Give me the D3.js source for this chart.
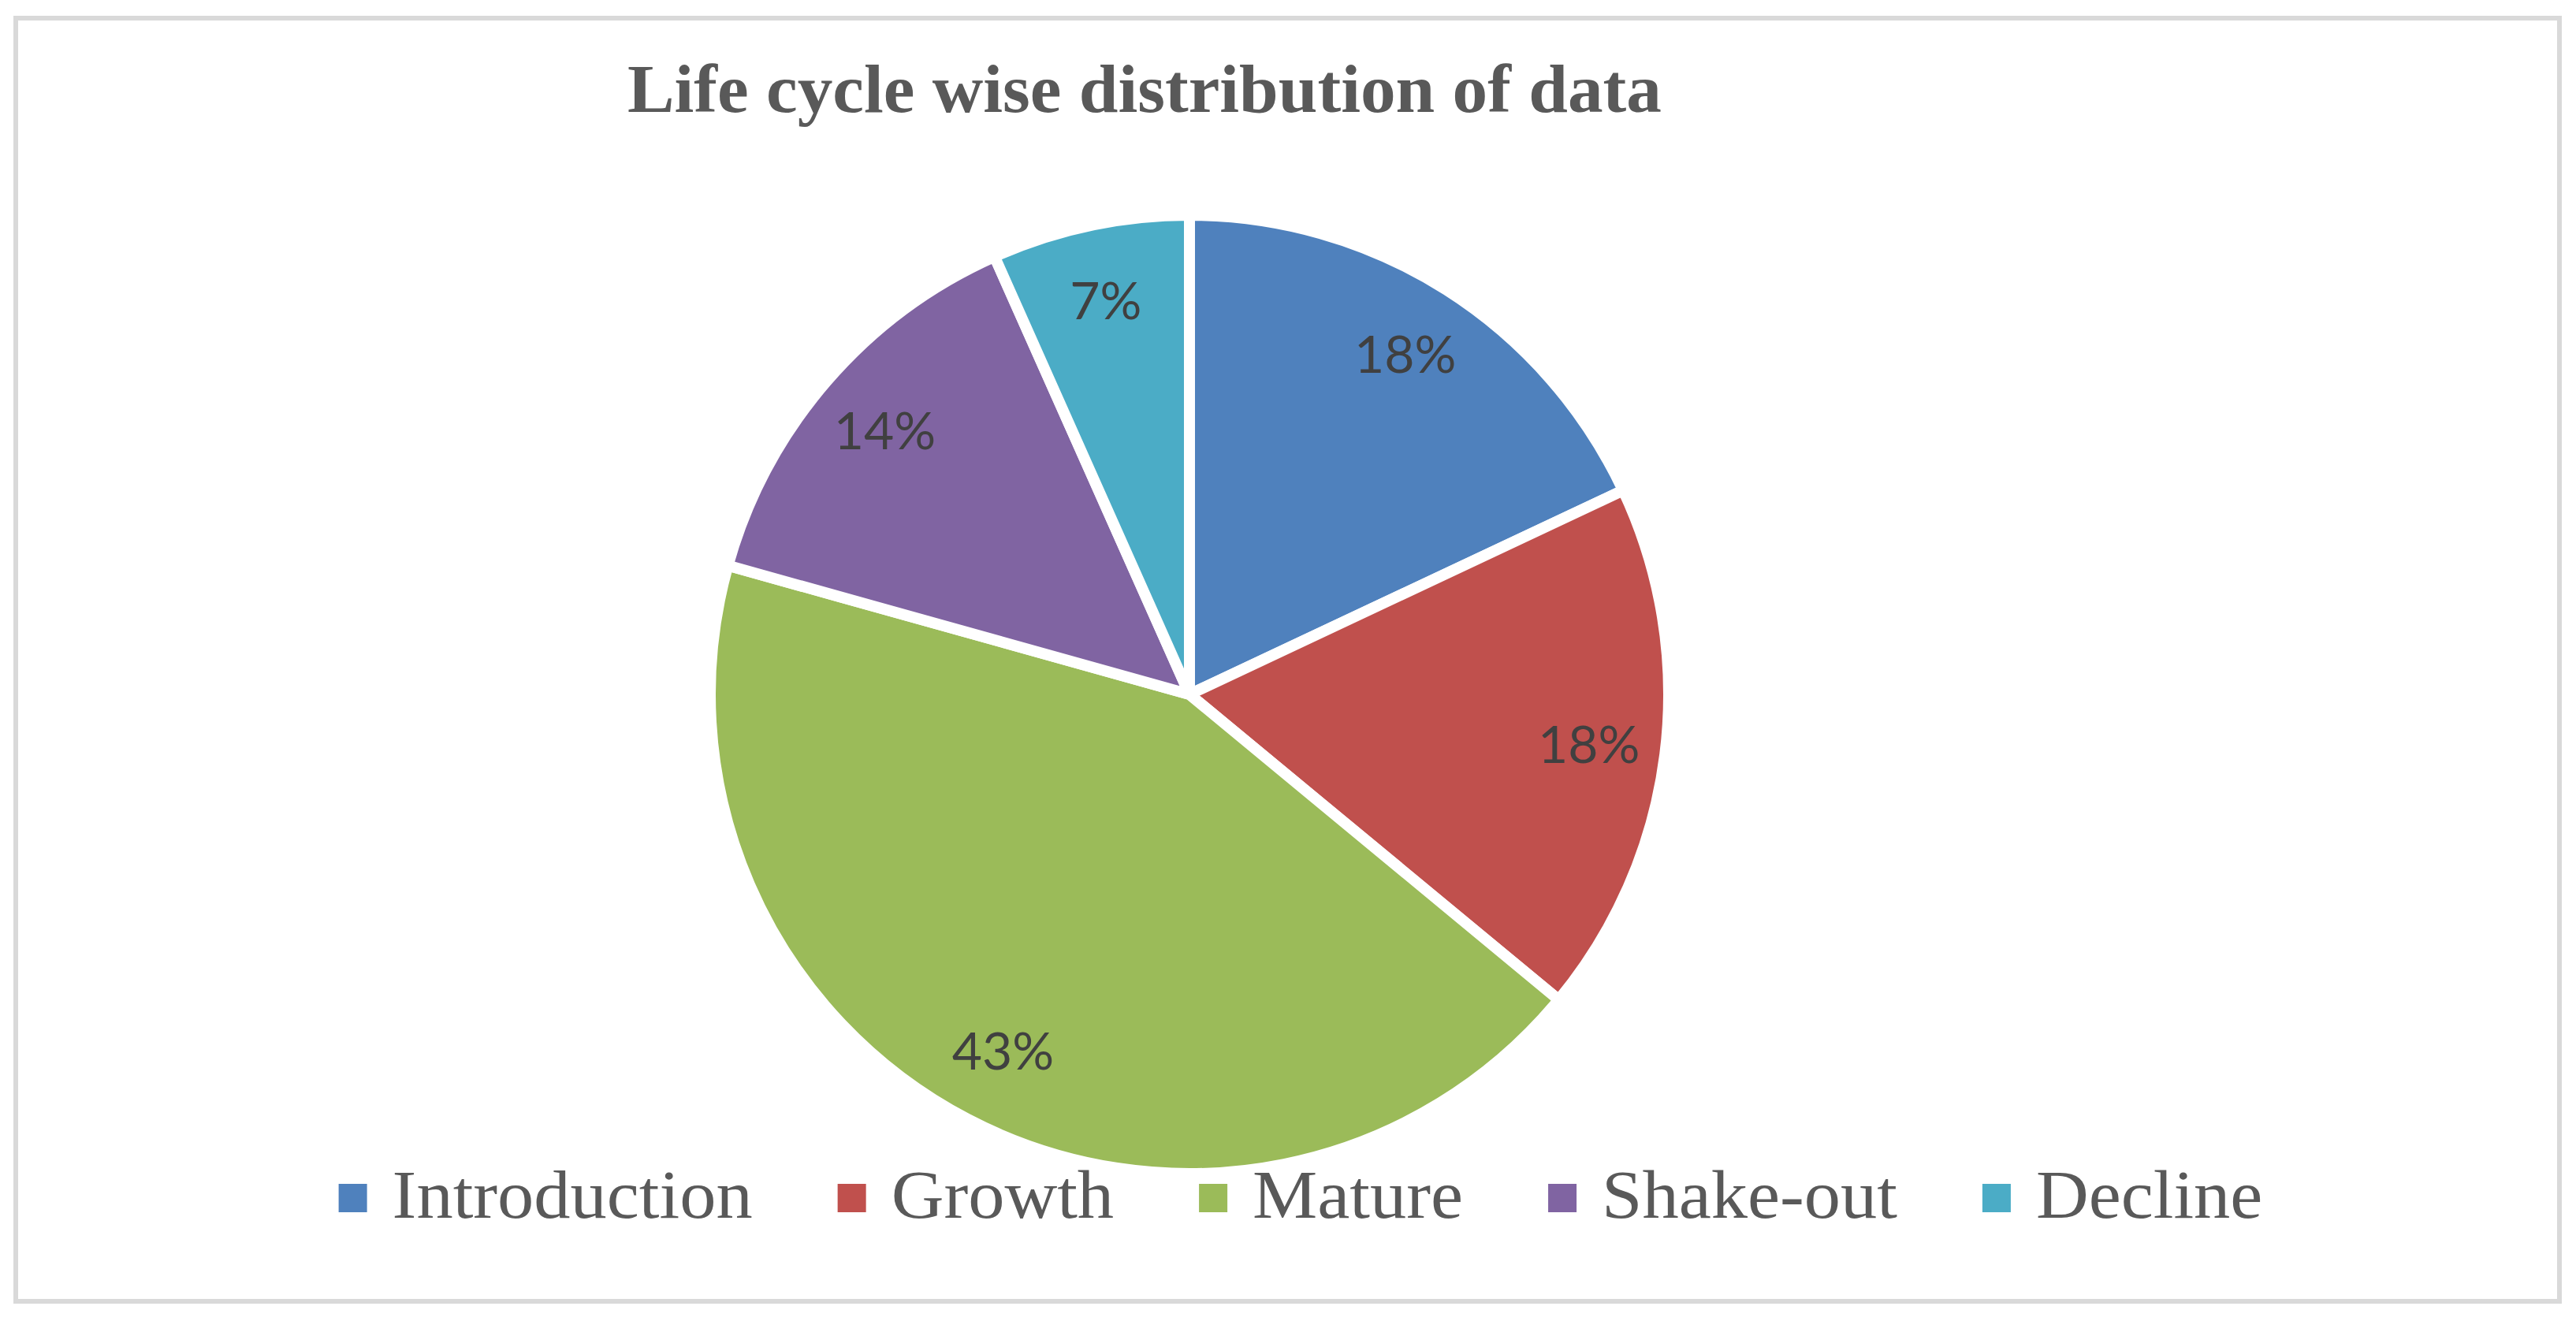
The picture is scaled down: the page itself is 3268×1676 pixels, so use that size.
<!DOCTYPE html>
<html lang="en">
<head>
    <meta charset="UTF-8">
    <title>Life cycle wise distribution of data</title>
    <script src="https://d3js.org/d3.v7.min.js"></script>
    <style>
        html, body { margin: 0; padding: 0; background: #fff; }
        svg { display: block; }
    </style>
</head>
<body>
    <svg width="3268" height="1676"></svg>

    <script>
        // Chart data (counts; labels show shares)
        const title = "Life cycle wise distribution of data";
        const stages = ["Introduction", "Growth", "Mature", "Shake-out", "Decline"];
        const counts = [27, 27, 65, 21, 10];
        const colors = ["#4f81bd", "#c0504d", "#9bbb59", "#8064a2", "#4bacc6"];

        const svg = d3.select("svg"),
              width = +svg.attr("width"),
              height = +svg.attr("height");

        // Outer frame
        svg.append("rect")
            .attr("x", 20).attr("y", 23)
            .attr("width", width - 41).attr("height", height - 48)
            .attr("fill", "#fff")
            .attr("stroke", "#d9d9d9")
            .attr("stroke-width", 6);

        // Title
        svg.append("text")
            .attr("x", 1452)
            .attr("y", 142)
            .attr("text-anchor", "middle")
            .attr("font-family", "'Liberation Serif', 'DejaVu Serif', serif")
            .attr("font-weight", "bold")
            .attr("font-size", 86)
            .attr("fill", "#595959")
            .attr("textLength", 1312)
            .attr("lengthAdjust", "spacingAndGlyphs")
            .text(title);

        // Pie
        const cx = 1509, cy = 881, radius = 608;
        const color = d3.scaleOrdinal().domain(stages).range(colors);
        const total = d3.sum(counts);
        const pct = d3.format(".0%");

        const pie = d3.pie()
            .value(d => d.value)
            .sort(null);

        const arcs = pie(stages.map((s, i) => ({ name: s, value: counts[i] })));

        const arc = d3.arc().innerRadius(0).outerRadius(radius);
        const labelArc = d3.arc().innerRadius(radius * 0.84).outerRadius(radius * 0.84);

        const g = svg.append("g").attr("transform", `translate(${cx},${cy})`);

        g.selectAll("path")
            .data(arcs)
            .join("path")
            .attr("d", arc)
            .attr("fill", d => color(d.data.name))
            .attr("stroke", "#fff")
            .attr("stroke-width", 14)
            .attr("stroke-linejoin", "miter");

        g.selectAll("text.label")
            .data(arcs)
            .join("text")
            .attr("class", "label")
            .attr("transform", d => `translate(${labelArc.centroid(d)})`)
            .attr("text-anchor", "middle")
            .attr("dy", "0.35em")
            .attr("font-family", "Lato, 'Open Sans', sans-serif")
            .attr("font-size", 66)
            .attr("fill", "#404040")
            .text(d => pct(d.data.value / total));

        // Legend
        const legend = svg.append("g");
        const stretch = 1.075;
        const items = legend.selectAll("g")
            .data(stages)
            .join("g");

        items.append("rect")
            .attr("width", 36).attr("height", 36)
            .attr("y", 1502)
            .attr("fill", d => color(d));

        items.append("text")
            .attr("y", 1545)
            .attr("font-family", "'Liberation Serif', 'DejaVu Serif', serif")
            .attr("font-size", 86)
            .attr("fill", "#595959")
            .text(d => d)
            .each(function () {
                const w = this.getComputedTextLength() * stretch;
                d3.select(this).attr("textLength", w).attr("lengthAdjust", "spacingAndGlyphs");
                this.__w = w;
            });

        let x = 0;
        items.each(function () {
            const t = d3.select(this).select("text").node();
            d3.select(this).select("rect").attr("x", x);
            d3.select(this).select("text").attr("x", x + 68);
            x += 68 + t.__w + 108;
        });
        const legendWidth = x - 108;
        legend.attr("transform", `translate(${1650 - legendWidth / 2},0)`);
    </script>
</body>
</html>
